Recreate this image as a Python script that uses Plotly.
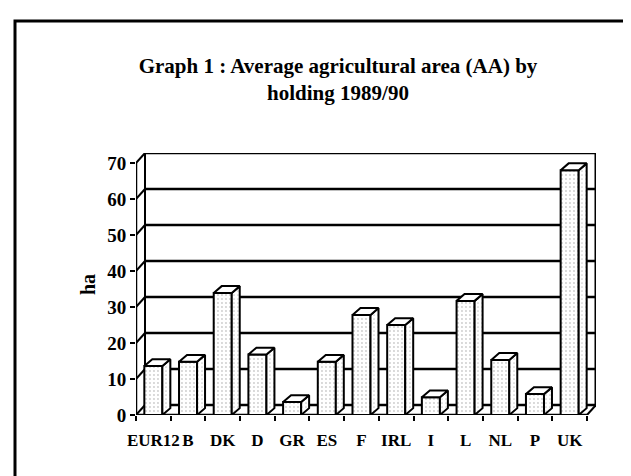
import plotly.graph_objects as go

# ---- data ----
categories = ["EUR12", "B", "DK", "D", "GR", "ES", "F", "IRL", "I", "L", "NL", "P", "UK"]
area_ha = [13.6, 14.8, 33.9, 16.8, 3.6, 14.8, 27.8, 25.0, 4.9, 31.7, 15.3, 5.8, 68.0]
y_ticks = [0, 10, 20, 30, 40, 50, 60, 70]
title_text = "Graph 1 : Average agricultural area (AA) by<br>holding 1989/90"
y_label = "ha"

# ---- styling / 3D geometry (in axis units) ----
FONT = "Liberation Serif, Times New Roman, serif"
BAR_W = 0.52
BDX, BDY = 0.23, 1.9      # bar depth offset
WDX, WDY = 0.259, 2.78    # wall depth offset
LW = 2

n = len(categories)
xs = list(range(n))
x_lo, x_hi = -0.5, n - 0.5
ymax = max(y_ticks)

fig = go.Figure()

# front faces
fig.add_trace(go.Bar(
    x=xs, y=area_ha, width=BAR_W,
    marker=dict(color="white", line=dict(color="black", width=LW),
                pattern=dict(shape=".", fgcolor="#9a9a9a", bgcolor="white", size=4, solidity=0.18)),
    hoverinfo="skip", showlegend=False))

# side faces
sx, sy = [], []
for i, v in zip(xs, area_ha):
    xr = i + BAR_W / 2
    sx += [xr, xr + BDX, xr + BDX, xr, xr, None]
    sy += [0, BDY, v + BDY, v, 0, None]
fig.add_trace(go.Scatter(
    x=sx, y=sy, mode="lines", fill="toself", fillcolor="white",
    fillpattern=dict(shape=".", fgcolor="#9a9a9a", bgcolor="white", size=4, solidity=0.15),
    line=dict(color="black", width=LW), hoverinfo="skip", showlegend=False))

# top faces
tx, ty = [], []
for i, v in zip(xs, area_ha):
    xl, xr = i - BAR_W / 2, i + BAR_W / 2
    tx += [xl, xl + BDX, xr + BDX, xr, xl, None]
    ty += [v, v + BDY, v + BDY, v, v, None]
fig.add_trace(go.Scatter(
    x=tx, y=ty, mode="lines", fill="toself", fillcolor="white",
    line=dict(color="black", width=LW), hoverinfo="skip", showlegend=False))

# ---- walls, floor, gridlines (shapes below traces) ----
shapes = []
def seg(x0, y0, x1, y1, w=LW):
    shapes.append(dict(type="line", xref="x", yref="y", x0=x0, y0=y0, x1=x1, y1=y1,
                       line=dict(color="black", width=w), layer="below"))

bx0, bx1 = x_lo + WDX, x_hi + WDX
for v in y_ticks:
    seg(bx0, v + WDY, bx1, v + WDY, 2.5)     # back wall gridline
    seg(x_lo, v, bx0, v + WDY)               # side wall diagonal
seg(bx0, WDY, bx0, ymax + WDY)               # back wall left edge
seg(bx1, WDY, bx1, ymax + WDY, 3)            # back wall right edge
seg(x_lo, 0, x_lo, ymax, 2.5)                # front y axis
seg(x_lo, 0, x_hi, 0, 2.5)                   # front baseline
seg(x_hi, 0, bx1, WDY)                       # floor right diagonal

# outer frame (pixel-derived paper coords)
L, R, T, B = 128, 43, 145, 69
pw, ph = 631 - L - R, 476 - T - B
def px(xp): return (xp - L) / pw
def py(yp): return (476 - B - yp) / ph
shapes.append(dict(type="rect", xref="paper", yref="paper",
                   x0=px(7), x1=px(660), y0=py(500), y1=py(13),
                   line=dict(color="black", width=3), fillcolor="rgba(0,0,0,0)", layer="above"))

fig.update_layout(
    width=631, height=476, autosize=False,
    margin=dict(l=L, r=R, t=T, b=B),
    paper_bgcolor="white", plot_bgcolor="white",
    shapes=shapes,
    title=dict(text=title_text, x=px(330), xanchor="center", xref="paper",
               y=1 - 65 / 476, yanchor="top", yref="container",
               font=dict(family=FONT, size=21, color="black", weight="bold")),
    xaxis=dict(range=[x_lo, bx1], tickmode="array", tickvals=xs, ticktext=categories,
               ticks="outside", ticklen=10, tickcolor="rgba(0,0,0,0)",
               minor=dict(tickmode="array", tickvals=[i - 0.5 for i in range(n + 1)],
                          ticks="outside", ticklen=5, tickwidth=2, tickcolor="black"),
               showgrid=False, zeroline=False, showline=False,
               tickfont=dict(family=FONT, size=17, color="black", weight="bold")),
    yaxis=dict(range=[0, ymax + WDY], tickmode="array", tickvals=y_ticks,
               ticks="outside", ticklen=5, tickwidth=2, tickcolor="black",
               showgrid=False, zeroline=False, showline=False,
               tickfont=dict(family=FONT, size=19, color="black", weight="bold")),
    annotations=[dict(text=y_label, xref="paper", yref="paper", x=px(80), y=py(277),
                      xanchor="center", yanchor="middle", textangle=-90, showarrow=False,
                      font=dict(family=FONT, size=20, color="black", weight="bold"))],
)

fig.write_html("out.html")
